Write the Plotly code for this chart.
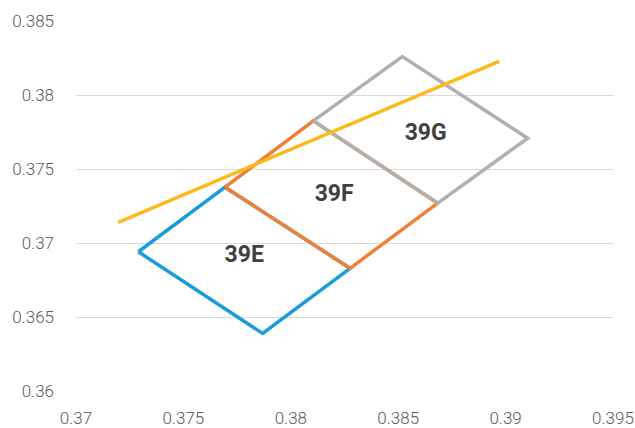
import plotly.graph_objects as go

# Quadrilateral bin corners (CIE x, y), closed polygons
bin_39e_x = [0.37290, 0.37694, 0.38276, 0.37869, 0.37290]
bin_39e_y = [0.36941, 0.37377, 0.36829, 0.36389, 0.36941]
bin_39f_x = [0.37694, 0.38105, 0.38684, 0.38276, 0.37694]
bin_39f_y = [0.37377, 0.37825, 0.37269, 0.36829, 0.37377]
bin_39g_x = [0.38105, 0.38519, 0.39103, 0.38684, 0.38105]
bin_39g_y = [0.37825, 0.38260, 0.37708, 0.37269, 0.37825]
line_x = [0.37197, 0.38970]
line_y = [0.37140, 0.38227]

label_text = ["39E", "39F", "39G"]
label_x = [0.37783, 0.38202, 0.38628]
label_y = [0.36912, 0.37325, 0.37735]

x_ticks = [0.37, 0.375, 0.38, 0.385, 0.39, 0.395]
x_tick_text = ["0.37", "0.375", "0.38", "0.385", "0.39", "0.395"]
y_ticks = [0.36, 0.365, 0.37, 0.375, 0.38, 0.385]
y_tick_text = ["0.36", "0.365", "0.37", "0.375", "0.38", "0.385"]

tick_font = dict(family="Roboto", size=17, color="#5A5A5A", weight=300)

fig = go.Figure()
for xs, ys, col in [(bin_39e_x, bin_39e_y, "#1A9CD8"),
                    (bin_39f_x, bin_39f_y, "#EF8038"),
                    (bin_39g_x, bin_39g_y, "#B0B0B0")]:
    fig.add_trace(go.Scatter(x=xs, y=ys, mode="lines",
                             line=dict(color=col, width=3.5),
                             hoverinfo="skip", showlegend=False))
fig.add_trace(go.Scatter(x=line_x, y=line_y, mode="lines",
                         line=dict(color="#FBBA1A", width=3.5),
                         hoverinfo="skip", showlegend=False))
fig.add_trace(go.Scatter(x=label_x, y=label_y, mode="text", text=label_text,
                         textfont=dict(family="Roboto", size=23, color="#404040",
                                       weight="bold"),
                         hoverinfo="skip", showlegend=False))

fig.update_layout(
    width=635, height=428,
    margin=dict(l=76, r=22, t=21, b=37, autoexpand=False),
    plot_bgcolor="white", paper_bgcolor="white",
    xaxis=dict(range=[0.37, 0.395], tickvals=x_ticks, ticktext=x_tick_text,
               showgrid=False, zeroline=False, showline=False, automargin=False,
               ticks="outside", ticklen=12, tickcolor="rgba(0,0,0,0)",
               ticklabeloverflow="allow", tickfont=tick_font),
    yaxis=dict(range=[0.36, 0.385], tickvals=y_ticks, ticktext=y_tick_text,
               showgrid=True, gridcolor="#D9D9D9", gridwidth=1.2,
               zeroline=False, showline=False, automargin=False,
               ticklabelstandoff=21, ticklabeloverflow="allow", tickfont=tick_font),
)
fig.write_html("out.html", config={"displayModeBar": False},
               post_script="document.body.style.margin='0';document.body.style.overflow='hidden';")
